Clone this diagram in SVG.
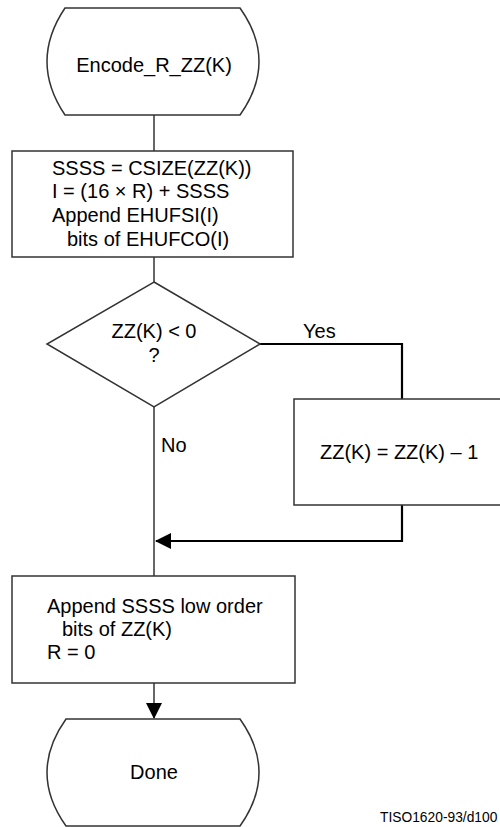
<svg xmlns="http://www.w3.org/2000/svg" width="500" height="827" viewBox="0 0 500 827">
<style>
.shape{fill:#fff;stroke:#333;stroke-width:1.5}
.t{font-family:"Liberation Sans",Arial,sans-serif;font-size:20px;fill:#000}
.c{text-anchor:middle}
.thin{fill:none;stroke:#000;stroke-width:1.2}
.thick{fill:none;stroke:#000;stroke-width:2.2}
</style>
<defs>
<marker id="ah" markerWidth="16" markerHeight="16" viewBox="0 0 16 16" refX="15" refY="8" orient="auto" markerUnits="userSpaceOnUse">
<path d="M0,0 L16,8 L0,16 Z" fill="#000"/>
</marker>
</defs>
<rect width="500" height="827" fill="#fff"/>
<g id="connectors">
<line class="thin" x1="154" y1="115" x2="154" y2="151"/>
<line class="thin" x1="154" y1="257" x2="154" y2="282"/>
<line class="thin" x1="154" y1="407" x2="154" y2="576"/>
<polyline class="thick" points="260,344 402,344 402,399"/>
<polyline class="thick" points="402,505 402,541 156,541" marker-end="url(#ah)"/>
<line class="thin" x1="154" y1="683" x2="154" y2="718" marker-end="url(#ah)"/>
<text class="t" x="303" y="338">Yes</text>
<text class="t" x="161" y="452">No</text>
</g>
<g id="start">
<path class="shape" d="M65,8 L240,8 Q278,61.5 240,115 L65,115 Q29,61.5 65,8 Z"/>
<text class="t c" x="154" y="72">Encode_R_ZZ(K)</text>
</g>
<g id="box1">
<rect class="shape" x="12" y="151" width="281" height="106"/>
<text class="t" x="52" y="175">SSSS = CSIZE(ZZ(K))</text>
<text class="t" x="52" y="198">I = (16 × R) + SSSS</text>
<text class="t" x="52" y="222">Append EHUFSI(I)</text>
<text class="t" x="67" y="246">bits of EHUFCO(I)</text>
</g>
<g id="decision">
<path class="shape" d="M154,282 L260,344 L154,407 L47,344 Z"/>
<text class="t c" x="154" y="338">ZZ(K) &lt; 0</text>
<text class="t c" x="154" y="362">?</text>
</g>
<g id="box2">
<rect class="shape" x="294" y="399" width="230" height="106"/>
<text class="t" x="320" y="459">ZZ(K) = ZZ(K) – 1</text>
</g>
<g id="box3">
<rect class="shape" x="12" y="576" width="283" height="107"/>
<text class="t" x="47" y="613">Append SSSS low order</text>
<text class="t" x="62" y="636">bits of ZZ(K)</text>
<text class="t" x="47" y="659">R = 0</text>
</g>
<g id="done">
<path class="shape" d="M66,719 L240,719 Q278,772.5 240,826 L66,826 Q28,772.5 66,719 Z"/>
<text class="t c" x="154" y="779">Done</text>
</g>
<text x="380" y="822" font-family="'Liberation Sans',Arial,sans-serif" font-size="13.8" fill="#000">TISO1620-93/d100</text>
</svg>
